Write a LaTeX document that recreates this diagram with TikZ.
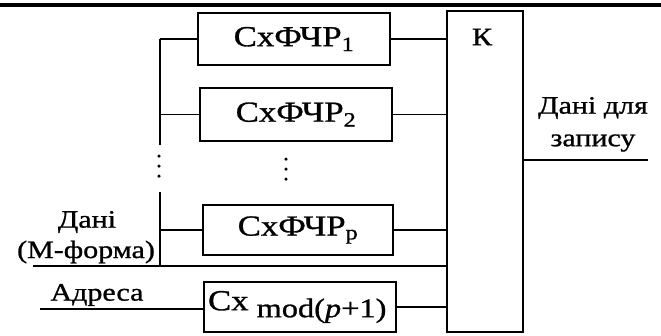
\documentclass[tikz,border=0pt]{standalone}
\usepackage{fontspec}
\setmainfont[FakeStretch=1.2,FakeBold=1]{Liberation Serif}
\begin{document}
\begin{tikzpicture}[x=1pt,y=-1pt,line width=1.8pt,
  blk/.style={draw,minimum width=192pt,minimum height=52pt,inner sep=0pt,font=\fontsize{29}{32}\selectfont},
  lbl/.style={inner sep=0pt,font=\fontsize{25}{28}\selectfont},
  dotm/.style={circle,fill,inner sep=0pt,minimum size=3.5pt}]
\useasboundingbox (0,0) rectangle (661,335);
% top rule
\coordinate (ruleL) at (0,5);
\coordinate (ruleR) at (661,5);
\draw[line width=4pt] (ruleL) -- (ruleR);
% blocks
\node[blk] (b1) at (294,39) {СхФЧР\textsubscript{1}};
\node[blk,minimum height=53pt] (b2) at (296,114.5) {СхФЧР\textsubscript{2}};
\node[blk,minimum width=190pt,minimum height=50pt] (bp) at (298,230) {СхФЧР\textsubscript{p}};
\node[blk,minimum height=50pt] (bm) at (300,307) {\makebox[186pt][l]{\hspace{1pt}Сх\hspace{8pt}\raisebox{-7pt}{\fontsize{27}{30}\selectfont mod(\textit{p}+1)}}};
\node[draw,minimum width=76pt,minimum height=321pt,inner sep=0pt] (K) at (485,171.5) {};
\node[lbl] (Klbl) at (482,37) {К};
% bus
\coordinate (busTop) at (160,39);
\coordinate (gapTop) at (160,145);
\coordinate (gapBot) at (160,192);
\coordinate (busBot) at (160,266);
\coordinate (danIn) at (33,266);
\coordinate (adrIn) at (40,309);
\coordinate (outEnd) at (648,160);
\draw (busTop) -- (gapTop);
\draw (gapBot) -- (busBot);
\draw (busTop) -- (b1.west);
\draw (b2.west -| busTop) -- (b2.west);
\draw (bp.west -| busTop) -- (bp.west);
\draw (danIn) -- (danIn -| K.west);
\draw (adrIn) -- (adrIn -| bm.west);
% outputs
\draw (b1.east) -- (b1.east -| K.west);
\draw (b2.east) -- (b2.east -| K.west);
\draw (bp.east) -- (bp.east -| K.west);
\draw (bm.east) -- (bm.east -| K.west);
\draw (outEnd -| K.east) -- (outEnd);
% dots
\node[dotm] (d1) at (159,156) {};
\node[dotm] (d2) at (159,166) {};
\node[dotm] (d3) at (159,176) {};
\node[dotm] (m1) at (286,159) {};
\node[dotm] (m2) at (286,169) {};
\node[dotm] (m3) at (286,179) {};
% labels
\node[lbl] (l1) at (593,108) {Дані для};
\node[lbl] (l2) at (593,143) {запису};
\node[lbl] (l3) at (87,222) {Дані};
\node[lbl] (l4) at (86,252) {(М-форма)};
\node[lbl] (l5) at (97,295) {Адреса};
\end{tikzpicture}
\end{document}
